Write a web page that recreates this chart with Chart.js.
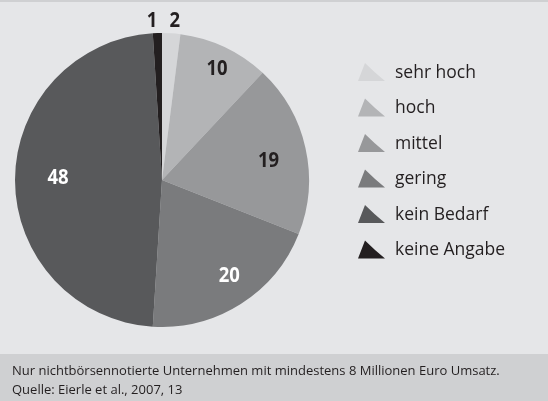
<!DOCTYPE html>
<html>
<head>
<meta charset="utf-8">
<script src="https://cdn.jsdelivr.net/npm/chart.js@4/dist/chart.umd.min.js"></script>
<style>
  html, body { margin: 0; padding: 0; background: #e5e6e8; }
  #wrap { width: 548px; height: 401px; position: relative; }
</style>
</head>
<body>
<div id="wrap"><canvas id="chart" width="548" height="401"></canvas></div>
<script>
const categories = ['sehr hoch', 'hoch', 'mittel', 'gering', 'kein Bedarf', 'keine Angabe'];
const values = [2, 10, 19, 20, 48, 1];
const sliceColors = ['#d5d6d8', '#b3b4b6', '#97989a', '#7a7b7d', '#58595b', '#231f20'];
const labelColors = ['#231f20', '#231f20', '#231f20', '#ffffff', '#ffffff', '#231f20'];
const footnotes = [
    'Nur nichtbörsennotierte Unternehmen mit mindestens 8 Millionen Euro Umsatz.',
    'Quelle: Eierle et al., 2007, 13'
];

// label placement tweaks (radius factor, angle shift in degrees)
const labelRadius = [1.09, 0.846, 0.737, 0.79, 0.708, 1.09];
const labelShift = [1.0, 1.1, 2.2, -3.0, 1.9, -1.8];

const FONT = '"Open Sans", "Noto Sans", sans-serif';
const NUM_FONT = 'bold 21px "Open Sans", sans-serif';

// background + footer band
const backdrop = {
    id: 'backdrop',
    beforeDraw(chart) {
        const c = chart.ctx;
        c.save();
        c.fillStyle = '#e5e6e8';
        c.fillRect(0, 0, chart.width, chart.height);
        c.fillStyle = '#cfd0d2';
        c.fillRect(0, 0, chart.width, 2);
        c.fillRect(0, 354, chart.width, chart.height - 354);
        c.fillStyle = '#231f20';
        c.font = '13px ' + FONT;
        c.textBaseline = 'middle';
        footnotes.forEach((t, i) => c.fillText(t, 12, 371 + i * 19));
        c.restore();
    }
};

// value labels on / above slices (slightly condensed)
const sliceLabels = {
    id: 'sliceLabels',
    afterDatasetsDraw(chart) {
        const c = chart.ctx;
        const meta = chart.getDatasetMeta(0);
        meta.data.forEach((arc, i) => {
            const mid = (arc.startAngle + arc.endAngle) / 2 + labelShift[i] * Math.PI / 180;
            const r = arc.outerRadius * labelRadius[i];
            const x = arc.x + Math.cos(mid) * r;
            const y = arc.y + Math.sin(mid) * r + 1;
            c.save();
            c.translate(x, y);
            c.scale(0.88, 1);
            c.font = NUM_FONT;
            c.textAlign = 'center';
            c.textBaseline = 'middle';
            c.fillStyle = labelColors[i];
            c.fillText(String(values[i]), 0, 0);
            c.restore();
        });
    }
};

// legend with triangle markers
const triLegend = {
    id: 'triLegend',
    afterDraw(chart) {
        const c = chart.ctx;
        c.save();
        c.font = '17.5px ' + FONT;
        c.textBaseline = 'middle';
        categories.forEach((name, i) => {
            const y = 73 + i * 35.5;
            c.fillStyle = sliceColors[i];
            c.beginPath();
            c.moveTo(358, y + 8);
            c.lineTo(385, y + 8);
            c.quadraticCurveTo(374, y - 1, 365, y - 10);
            c.closePath();
            c.fill();
            c.fillStyle = '#231f20';
            c.fillText(name, 395, y);
        });
        c.restore();
    }
};

new Chart(document.getElementById('chart'), {
    type: 'pie',
    data: {
        labels: categories,
        datasets: [{
            data: values,
            backgroundColor: sliceColors,
            borderWidth: 0
        }]
    },
    options: {
        responsive: false,
        animation: false,
        layout: { padding: { left: 15, right: 239, top: 33, bottom: 74 } },
        plugins: {
            legend: { display: false },
            tooltip: { enabled: false }
        }
    },
    plugins: [backdrop, sliceLabels, triLegend]
});
</script>
</body>
</html>
